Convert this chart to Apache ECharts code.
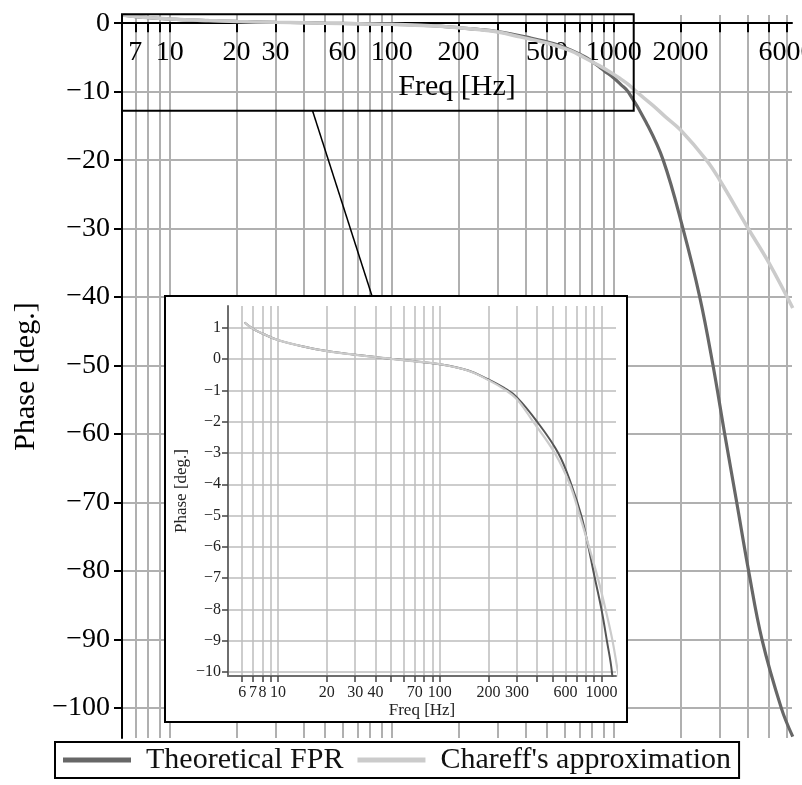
<!DOCTYPE html>
<html><head><meta charset="utf-8">
<script src="https://cdn.jsdelivr.net/npm/echarts@6/dist/echarts.min.js"></script>
<style>html,body{margin:0;padding:0;background:#fff}#c{width:802px;height:785px}</style>
</head><body><div id="c"></div>
<script>
// ---- data ----
const seriesNames = ['Theoretical FPR', "Chareff's approximation"];
const fprFreq  = [6.2, 7, 8, 10, 15, 20, 30, 40, 50, 70, 100, 150, 200, 250, 300, 400, 540, 650, 750, 830, 910, 1000, 1080, 1160, 1400, 1670, 2050, 2440, 2800, 3160, 3580, 4050, 4650, 5680, 6400];
const fprPhase = [1.17, 0.97, 0.82, 0.61, 0.38, 0.26, 0.14, 0.07, 0.01, -0.07, -0.16, -0.36, -0.65, -0.92, -1.22, -2.0, -3.0, -4.0, -5.0, -6.0, -7.0, -8.0, -9.0, -10.0, -14.5, -20, -30, -40, -50, -60, -70, -80, -90, -100, -104.2];
const chareffFreq  = [6.2, 7, 8, 10, 15, 20, 30, 40, 50, 70, 100, 150, 200, 250, 300, 378, 514, 637, 734, 838, 950, 1060, 1170, 1265, 1500, 1700, 2000, 2615, 3000, 4000, 5000, 6400];
const chareffPhase = [1.17, 0.97, 0.82, 0.61, 0.38, 0.26, 0.14, 0.07, 0.01, -0.07, -0.16, -0.37, -0.67, -0.96, -1.28, -2.0, -3.0, -4.0, -5.0, -6.0, -7.0, -8.0, -9.0, -10.0, -12.0, -13.6, -15.6, -20, -22.9, -29.8, -35, -41.6];

const mainXTicks  = [7,8,9,10,20,30,40,50,60,70,80,90,100,200,300,400,500,600,700,800,900,1000,2000,3000,4000,5000,6000];
const mainXLabels = [7,10,20,30,60,100,200,500,1000,2000,6000];
const mainYTicks  = [-100,-90,-80,-70,-60,-50,-40,-30,-20,-10,0];
const insetXTicks  = [6,7,8,9,10,20,30,40,50,60,70,80,90,100,200,300,400,500,600,700,800,900,1000];
const insetXLabels = [6,7,8,10,20,30,40,70,100,200,300,600,1000];
const insetYTicks  = [-10,-9,-8,-7,-6,-5,-4,-3,-2,-1,0,1];
const mainXRange = [6.1, 6350], mainYRange = [-104.4, 1.2];
const insetXRange = [4.9, 1230], insetYRange = [-10.13, 1.7];
const zoomBoxFreq  = [6.1, 1230];
const zoomBoxPhase = [1.3, -12.8];
const zoomLinkFreq = 44;

// ---- styling / layout ----
const SERIF = '"Liberation Serif","DejaVu Serif",serif';
const DARK = '#676767', LIGHT = '#cbcbcb';
const fmt = v => (v < 0 ? '\u2212' + Math.abs(v) : String(v));
const pairs = (xs, ys) => xs.map((x, i) => [x, ys[i]]);
const insetBox = {x:165, y:296, w:462, h:426};
const mainGrid = {left:122, top:15, width:670, height:723, outerBoundsMode:'none'};
const insetGrid = {left:228, top:306, width:388, height:370, z:60, outerBoundsMode:'none'};
// the main frequency axis crosses at phase 0: shift it up from the grid bottom
const zeroOffset = -mainGrid.height * (0 - mainYRange[0]) / (mainYRange[1] - mainYRange[0]);

const chart = echarts.init(document.getElementById('c'), null, {renderer:'canvas'});
const option = {
  animation: false,
  backgroundColor: '#fff',
  textStyle: {fontFamily: SERIF},
  grid: [mainGrid, insetGrid],
  legend: {
    left:55, top:742, borderColor:'#000', borderWidth:2, padding:[3,8,3,8],
    itemGap:14, itemWidth:68, itemHeight:5, icon:'rect',
    textStyle:{fontSize:30, fontFamily:SERIF, color:'#111', padding:[0,0,0,10]},
    data: seriesNames
  },
  xAxis: [
    {type:'log', logBase:10, gridIndex:0, min:mainXRange[0], max:mainXRange[1], position:'bottom', offset:zeroOffset,
     axisLine:{onZero:false, lineStyle:{color:'#000', width:2}},
     axisTick:{customValues:mainXTicks, length:9, lineStyle:{color:'#000', width:2}},
     axisLabel:{customValues:mainXLabels, color:'#000', fontSize:28, fontFamily:SERIF, margin:15,
                formatter: v => String(Math.round(v))},
     splitLine:{show:true, lineStyle:{color:'#b0b0b0', width:2}},
     name:'Freq [Hz]', nameLocation:'middle', nameGap:49,
     nameTextStyle:{fontSize:30, fontFamily:SERIF, color:'#000'}},
    {type:'log', logBase:10, gridIndex:1, min:insetXRange[0], max:insetXRange[1], position:'bottom', z:61,
     axisLine:{onZero:false, lineStyle:{color:'#6e6e6e', width:2}},
     axisTick:{customValues:insetXTicks, length:6, lineStyle:{color:'#444', width:1.5}},
     axisLabel:{customValues:insetXLabels, color:'#222', fontSize:16, fontFamily:SERIF, margin:9,
                formatter: v => String(Math.round(v))},
     splitLine:{show:true, lineStyle:{color:'#bdbdbd', width:1.5}},
     name:'Freq [Hz]', nameLocation:'middle', nameGap:26,
     nameTextStyle:{fontSize:17, fontFamily:SERIF, color:'#222'}}
  ],
  yAxis: [
    {type:'value', gridIndex:0, min:mainYRange[0], max:mainYRange[1],
     axisLine:{show:true, onZero:false, lineStyle:{color:'#000', width:2}},
     axisTick:{show:true, customValues:mainYTicks, length:8, lineStyle:{color:'#000', width:2}},
     axisLabel:{customValues:mainYTicks, color:'#000', fontSize:28, fontFamily:SERIF, margin:12, formatter:fmt},
     splitLine:{show:true, lineStyle:{color:'#b0b0b0', width:2}},
     name:'Phase [deg.]', nameLocation:'middle', nameGap:80,
     nameTextStyle:{fontSize:30, fontFamily:SERIF, color:'#000'}},
    {type:'value', gridIndex:1, min:insetYRange[0], max:insetYRange[1], z:61,
     axisLine:{show:true, onZero:false, lineStyle:{color:'#6e6e6e', width:2}},
     axisTick:{show:true, customValues:insetYTicks, length:6, lineStyle:{color:'#444', width:1.5}},
     axisLabel:{customValues:insetYTicks, color:'#222', fontSize:16, fontFamily:SERIF, margin:7, formatter:fmt},
     splitLine:{show:true, lineStyle:{color:'#bdbdbd', width:1.5}},
     name:'Phase [deg.]', nameLocation:'middle', nameGap:38,
     nameTextStyle:{fontSize:17, fontFamily:SERIF, color:'#222'}}
  ],
  series: [
    {name:seriesNames[0], type:'line', xAxisIndex:0, yAxisIndex:0, data:pairs(fprFreq, fprPhase),
     symbol:'none', smooth:0.4, clip:true, z:2, lineStyle:{color:DARK, width:3.2}, itemStyle:{color:DARK}},
    {name:seriesNames[1], type:'line', xAxisIndex:0, yAxisIndex:0, data:pairs(chareffFreq, chareffPhase),
     symbol:'none', smooth:0.4, clip:true, z:3, lineStyle:{color:LIGHT, width:3.5}, itemStyle:{color:LIGHT}},
    {name:seriesNames[0], type:'line', xAxisIndex:1, yAxisIndex:1, data:pairs(fprFreq, fprPhase),
     symbol:'none', smooth:0.4, clip:true, z:62, lineStyle:{color:'#555', width:2}, itemStyle:{color:'#555'}},
    {name:seriesNames[1], type:'line', xAxisIndex:1, yAxisIndex:1, data:pairs(chareffFreq, chareffPhase),
     symbol:'none', smooth:0.4, clip:true, z:63, lineStyle:{color:LIGHT, width:2.2}, itemStyle:{color:LIGHT}}
  ]
};
chart.setOption(option);

// zoom-region rectangle and connector, positioned through the main grid's scales
const p1 = chart.convertToPixel({gridIndex:0}, [zoomBoxFreq[0], zoomBoxPhase[0]]);
const p2 = chart.convertToPixel({gridIndex:0}, [zoomBoxFreq[1], zoomBoxPhase[1]]);
const pl = chart.convertToPixel({gridIndex:0}, [zoomLinkFreq, zoomBoxPhase[1]]);
chart.setOption({
  graphic: {elements: [
    {type:'rect', z:50, silent:true,
     shape:{x:insetBox.x, y:insetBox.y, width:insetBox.w, height:insetBox.h},
     style:{fill:'#fff', stroke:'#000', lineWidth:2}},
    {type:'rect', z:10, silent:true,
     shape:{x:p1[0], y:p1[1], width:p2[0]-p1[0], height:p2[1]-p1[1]},
     style:{fill:'none', stroke:'#000', lineWidth:2}},
    {type:'line', z:10, silent:true,
     shape:{x1:pl[0], y1:pl[1], x2:372, y2:insetBox.y},
     style:{stroke:'#000', lineWidth:1.5}}
  ]}
});
</script></body></html>
